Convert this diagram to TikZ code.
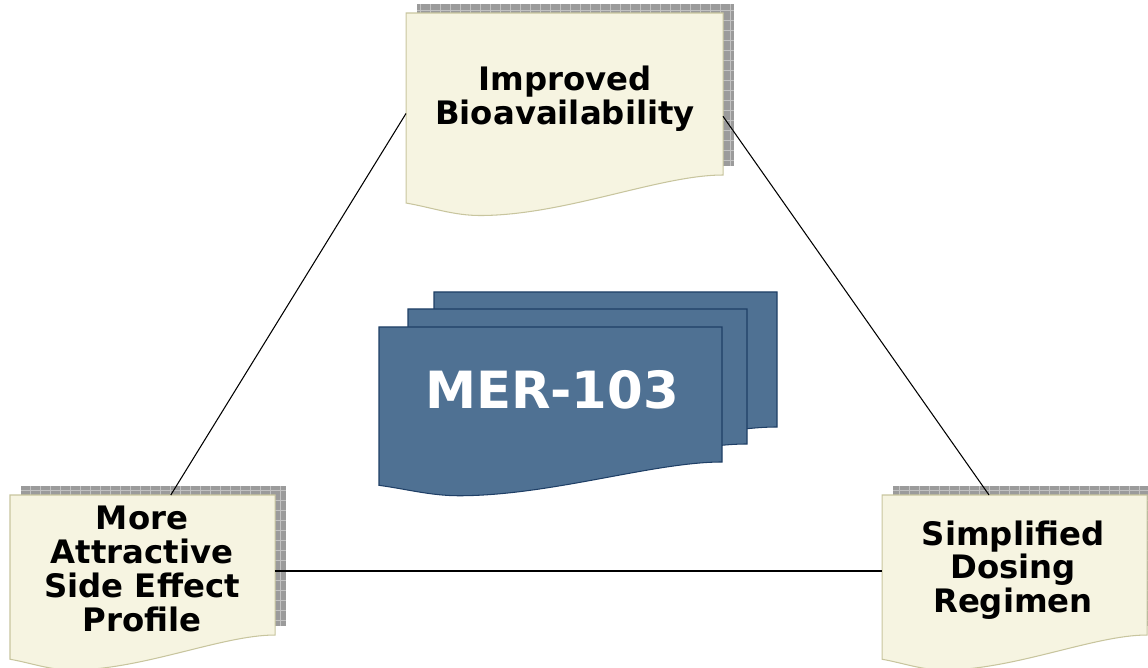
\documentclass[tikz,border=0pt]{standalone}
\usepackage{fontspec}
\setmainfont{DejaVu Sans}
\usetikzlibrary{calc,backgrounds}

\definecolor{paperfill}{HTML}{F6F4E1}
\definecolor{paperedge}{HTML}{C8C59E}
\definecolor{merfill}{HTML}{4F7193}
\definecolor{meredge}{HTML}{1F3F66}
\definecolor{shadowgray}{HTML}{9B9B9B}
\definecolor{shadowline}{HTML}{C2C2C2}

\tikzset{
  docpage/.pic={\path[#1] (0,0) -- (1,0) -- (1,1) .. controls (0.8,1) and (0.5,1.25) .. (0.233,1.25) .. controls (0.15,1.25) and (0.08,1.2) .. (0,1.173) -- cycle;},
  paper/.style={fill=paperfill, draw=paperedge, line width=0.6pt},
  merpage/.style={fill=merfill, draw=meredge, line width=0.6pt},
  sheet/.style={inner sep=0pt, outer sep=0pt},
  boxtext/.style={align=center, inner sep=0pt, font=\bfseries\fontsize{18.4}{19.2}\selectfont},
  link/.style={draw=black, line width=0.6pt},
}

\begin{document}
\begin{tikzpicture}[x=0.02cm, y=-0.02cm]
\clip (0,0) rectangle (1148,668);

% the three sheets (as empty boxes) and their texts
\node[sheet, minimum width=6.34cm, minimum height=3.24cm] (bio) at (564.5,94) {};
\node[sheet, minimum width=5.3cm, minimum height=2.8cm] (side) at (142.5,565) {};
\node[sheet, minimum width=5.3cm, minimum height=2.8cm] (dosing) at (1014.5,565) {};

\node[boxtext] (biotext) at (565,99) {Improved\\Bioavailability};
\node[boxtext] (sidetext) at (142,569) {More\\Attractive\\Side Effect\\Profile};
\node[boxtext] (dosingtext) at (1013,570) {Simplified\\Dosing\\Regimen};
\node[font=\bfseries\fontsize{29.2}{31}\selectfont, text=white, inner sep=0pt] (mer) at (552,390) {MER-103};

\begin{scope}[on background layer]
% grey grid shadows and the paper sheets
\foreach \n/\w/\h in {bio/317/162, side/265/140, dosing/265/140} {
  \fill[shadowgray] ($(\n.north west)+(11,-9)$) rectangle ($(\n.south east)+(11,-9)$);
  \draw[shadowline, line width=0.4pt, step=0.2cm] ($(\n.north west)+(11,-9)$) grid ($(\n.south east)+(11,-9)$);
  \pic[xscale=\w, yscale=\h] at (\n.north west) {docpage=paper};
}
% stack behind MER-103
\pic[xscale=343, yscale=135] at (434,292) {docpage=merpage};
\pic[xscale=339, yscale=135] at (408,309) {docpage=merpage};
\pic[xscale=343, yscale=135] at (379,327) {docpage=merpage};
\end{scope}

\draw[link] (bio.187.5) -- (side.68.5);
\draw[link] (bio.352.5) -- (dosing.110.6);
\draw[link] ($(side.east)+(0,6)$) -- ($(dosing.west)+(0,6)$);
\end{tikzpicture}
\end{document}
